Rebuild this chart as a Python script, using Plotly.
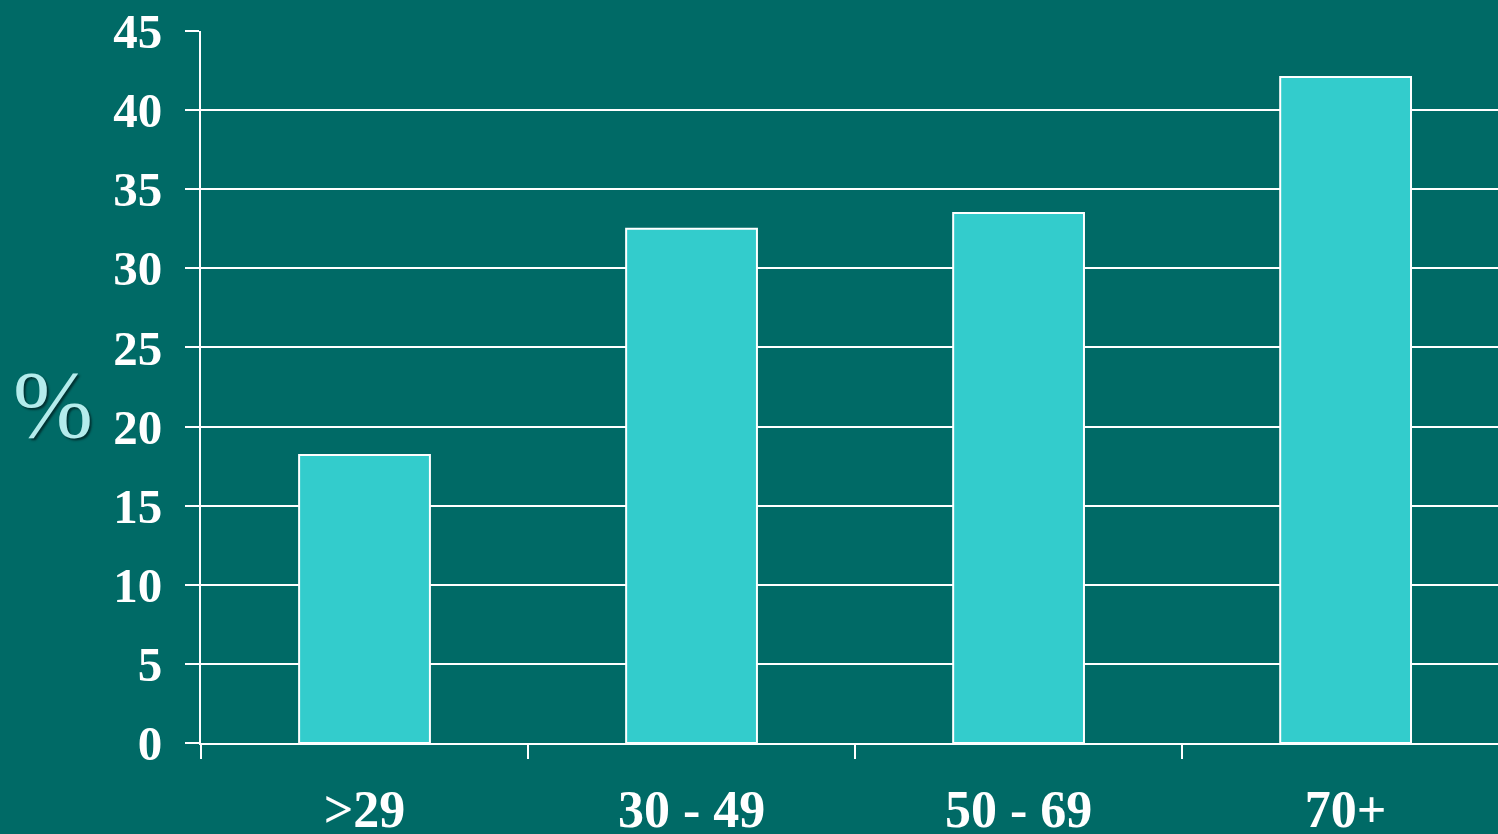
import plotly.graph_objects as go

categories = [">29", "30 - 49", "50 - 69", "70+"]
values = [18.2, 32.5, 33.5, 42.1]
y_ticks = [0, 5, 10, 15, 20, 25, 30, 35, 40, 45]

BG = "#006a66"
BAR = "#33cccc"
FONT = "Liberation Serif"

fig = go.Figure()
fig.add_trace(go.Bar(
    x=categories, y=values, width=0.4,
    marker=dict(color=BAR, line=dict(color="white", width=2)),
))

fig.update_layout(
    width=1498, height=834,
    margin=dict(l=201, r=0, t=31, b=91),
    paper_bgcolor=BG, plot_bgcolor=BG,
    showlegend=False,
    bargap=0.6,
)
fig.update_xaxes(
    range=[-0.5, 3.466], automargin=False,
    showline=True, linecolor="white", linewidth=2,
    ticks="outside", tickson="boundaries", ticklen=14, tickwidth=2, tickcolor="white",
    showgrid=False, zeroline=False,
    tickfont=dict(family=FONT, size=52, color="white", weight="bold"),
    ticklabelstandoff=20,
)
fig.update_yaxes(
    range=[0, 45], tickvals=y_ticks, automargin=False,
    showline=True, linecolor="white", linewidth=2,
    ticks="outside", ticklen=14, tickwidth=2, tickcolor="white",
    showgrid=True, gridcolor="white", gridwidth=2, zeroline=False,
    tickfont=dict(family=FONT, size=49, color="white", weight="bold"),
    ticklabelstandoff=13,
)
fig.add_annotation(
    text="%", xref="paper", yref="paper", x=-0.114, y=0.475,
    xanchor="center", yanchor="middle", showarrow=False,
    font=dict(family=FONT, size=96, color="#b4ecec", shadow="2px 2px 2px #003333"),
)
fig.write_html("out.html")
